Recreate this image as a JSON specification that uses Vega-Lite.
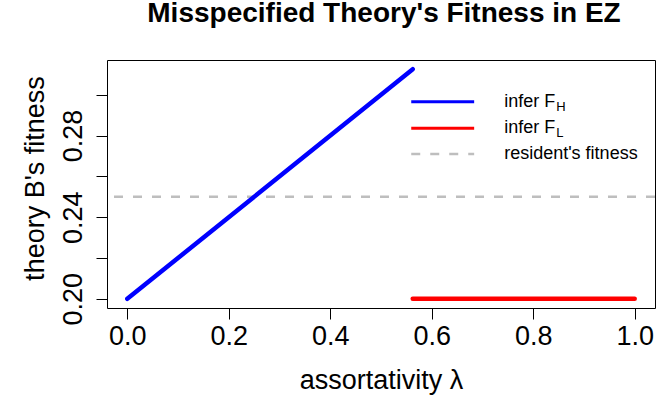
{
  "$schema": "https://vega.github.io/schema/vega-lite/v6.json",
  "autosize": {"type": "none"},
  "width": 548,
  "height": 248,
  "padding": {"left": 107, "top": 60, "right": 2, "bottom": 92},
  "background": "white",
  "title": {
    "text": "Misspecified Theory's Fitness in EZ",
    "font": "Liberation Sans",
    "fontSize": 28,
    "fontWeight": "bold",
    "color": "black",
    "anchor": "middle",
    "baseline": "alphabetic",
    "offset": 10,
    "dx": 3
  },
  "config": {
    "view": {"stroke": "black", "strokeWidth": 1},
    "font": "Liberation Sans"
  },
  "datasets": {
    "series": [
      {"series": "infer F_H", "lambda": 0.0, "fitness": 0.2},
      {"series": "infer F_H", "lambda": 0.5625, "fitness": 0.3125},
      {"series": "infer F_L", "lambda": 0.5625, "fitness": 0.2},
      {"series": "infer F_L", "lambda": 1.0, "fitness": 0.2}
    ],
    "resident": [{"fitness": 0.25}],
    "legend": [
      {"label": "infer F", "sub": "H", "series": "infer F_H", "x1": 0.5596, "x2": 0.6836, "xt": 0.7427, "y": 0.2966},
      {"label": "infer F", "sub": "L", "series": "infer F_L", "x1": 0.5596, "x2": 0.6836, "xt": 0.7427, "y": 0.2836},
      {"label": "resident's fitness", "sub": "", "series": "resident", "x1": 0.5596, "x2": 0.6836, "xt": 0.7427, "y": 0.2709}
    ]
  },
  "encoding": {
    "x": {
      "type": "quantitative",
      "scale": {"domain": [-0.04, 1.04], "nice": false, "zero": false},
      "axis": {
        "values": [0, 0.2, 0.4, 0.6, 0.8, 1.0],
        "format": ".1f",
        "domain": false,
        "grid": false,
        "tickSize": 11,
        "tickColor": "black",
        "labelFontSize": 27,
        "labelColor": "black",
        "labelPadding": 4,
        "title": "assortativity λ",
        "titleFontSize": 27,
        "titleFontWeight": "normal",
        "titleColor": "black",
        "titlePadding": 18
      }
    },
    "y": {
      "type": "quantitative",
      "scale": {"domain": [0.1955, 0.317], "nice": false, "zero": false},
      "axis": {
        "values": [0.2, 0.22, 0.24, 0.26, 0.28, 0.3],
        "labelExpr": "round(datum.value*100) % 4 == 0 ? format(datum.value, '.2f') : ''",
        "domain": false,
        "grid": false,
        "tickSize": 11,
        "tickColor": "black",
        "labelFontSize": 27,
        "labelColor": "black",
        "labelAngle": -90,
        "labelAlign": "center",
        "labelBaseline": "alphabetic",
        "labelPadding": 15,
        "title": "theory B's fitness",
        "titleFontSize": 27,
        "titleFontWeight": "normal",
        "titleColor": "black",
        "titlePadding": 10,
        "titleY": 118
      }
    }
  },
  "layer": [
    {
      "data": {"name": "resident"},
      "mark": {"type": "rule", "color": "#BEBEBE", "strokeWidth": 2.5, "strokeDash": [9, 10]},
      "encoding": {"y": {"field": "fitness", "type": "quantitative"}}
    },
    {
      "data": {"name": "series"},
      "mark": {"type": "line", "strokeWidth": 4.5, "strokeCap": "round"},
      "encoding": {
        "x": {"field": "lambda", "type": "quantitative"},
        "y": {"field": "fitness", "type": "quantitative"},
        "color": {
          "field": "series",
          "type": "nominal",
          "scale": {"domain": ["infer F_H", "infer F_L", "resident"], "range": ["#0000FF", "#FF0000", "#BEBEBE"]},
          "legend": null
        }
      }
    },
    {
      "data": {"name": "legend"},
      "transform": [{"filter": "datum.series != 'resident'"}],
      "mark": {"type": "rule", "strokeWidth": 3},
      "encoding": {
        "x": {"field": "x1", "type": "quantitative"},
        "x2": {"field": "x2"},
        "y": {"field": "y", "type": "quantitative"},
        "color": {"field": "series", "type": "nominal", "legend": null}
      }
    },
    {
      "data": {"name": "legend"},
      "transform": [{"filter": "datum.series == 'resident'"}],
      "mark": {"type": "rule", "strokeWidth": 2.5, "strokeDash": [9, 10]},
      "encoding": {
        "x": {"field": "x1", "type": "quantitative"},
        "x2": {"field": "x2"},
        "y": {"field": "y", "type": "quantitative"},
        "color": {"field": "series", "type": "nominal", "legend": null}
      }
    },
    {
      "data": {"name": "legend"},
      "mark": {"type": "text", "align": "left", "baseline": "middle", "fontSize": 18, "color": "black"},
      "encoding": {
        "x": {"field": "xt", "type": "quantitative"},
        "y": {"field": "y", "type": "quantitative"},
        "text": {"field": "label"}
      }
    },
    {
      "data": {"name": "legend"},
      "mark": {"type": "text", "align": "left", "baseline": "middle", "fontSize": 13, "color": "black", "dx": 52, "dy": 5},
      "encoding": {
        "x": {"field": "xt", "type": "quantitative"},
        "y": {"field": "y", "type": "quantitative"},
        "text": {"field": "sub"}
      }
    }
  ]
}
